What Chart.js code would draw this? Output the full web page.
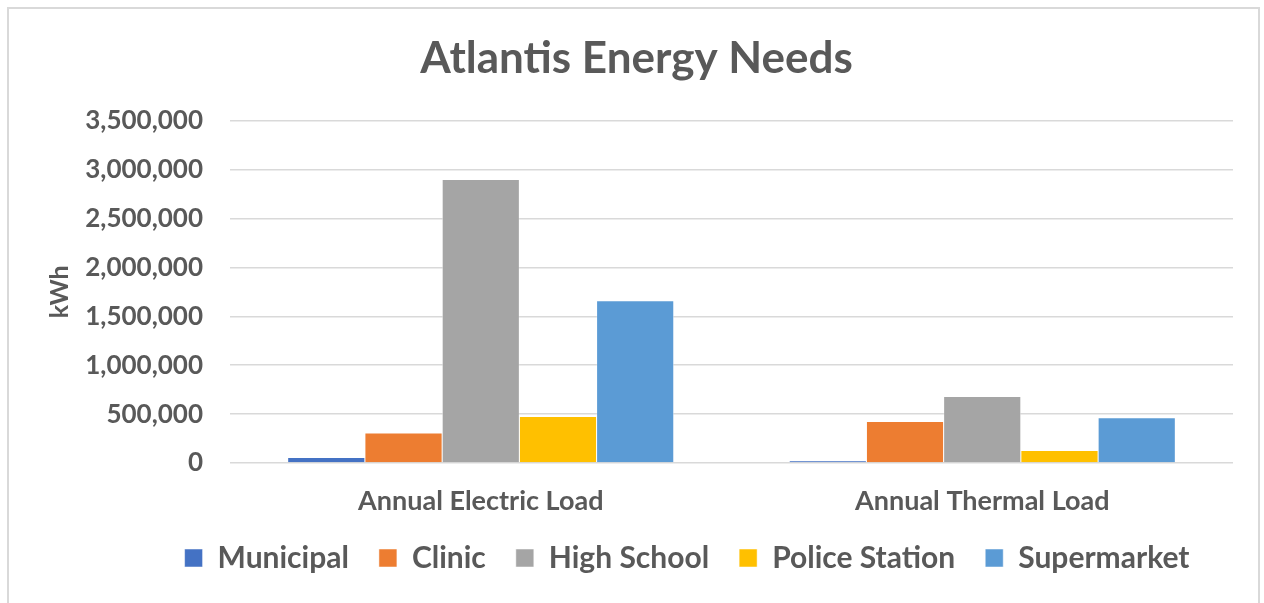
<!DOCTYPE html>
<html>
<head>
<meta charset="utf-8">
<script src="https://cdn.jsdelivr.net/npm/chart.js"></script>
<style>
  body { margin: 0; background: #fff; }
  #frame { position: absolute; left: 7px; top: 7px; width: 1249px; height: 620px; border: 2px solid #d9d9d9; }
  #wrap { position: absolute; left: 0; top: 0; width: 1264px; height: 603px; }
</style>
</head>
<body>
<div id="frame"></div>
<div id="wrap"><canvas id="chart" width="1264" height="603"></canvas></div>
<script>
const categories = ["Annual Electric Load", "Annual Thermal Load"];
const municipal = [57000, 23500];
const clinic = [306000, 424000];
const high_school = [2900000, 680000];
const police_station = [475000, 129000];
const supermarket = [1660000, 462000];
const y_ticks = [0, 500000, 1000000, 1500000, 2000000, 2500000, 3000000, 3500000];

const text_color = "#595959";
const font_name = "Lato, 'Open Sans', sans-serif";

const ctx = document.getElementById("chart").getContext("2d");

function series(label, data, color) {
    return {
        label: label,
        data: data,
        backgroundColor: color,
        borderColor: "#ffffff",
        borderWidth: 0.5,
        categoryPercentage: 0.77,
        barPercentage: 1.0
    };
}

// the legend in the original sits a bit right of centre
const legend_shift = {
    id: "legend_shift",
    afterLayout(chart) {
        chart.legend.left += 101;
        chart.legend.width = chart.legend.right - chart.legend.left;
    }
};

let myChart = new Chart(ctx, {
    type: "bar",
    data: {
        labels: categories,
        datasets: [
            series("Municipal", municipal, "#4472C4"),
            series("Clinic", clinic, "#ED7D31"),
            series("High School", high_school, "#A5A5A5"),
            series("Police Station", police_station, "#FFC000"),
            series("Supermarket", supermarket, "#5B9BD5")
        ]
    },
    options: {
        responsive: false,
        animation: false,
        layout: { padding: { left: 40, right: 31, top: 0, bottom: 20 } },
        plugins: {
            title: {
                display: true,
                text: "Atlantis Energy Needs",
                color: text_color,
                font: { family: font_name, size: 44, weight: "bold" },
                padding: { top: 32, bottom: 36 }
            },
            legend: {
                position: "bottom",
                labels: {
                    color: text_color,
                    font: { family: font_name, size: 30, weight: "bold" },
                    boxWidth: 18,
                    boxHeight: 18,
                    padding: 30
                }
            },
            tooltip: { enabled: false }
        },
        scales: {
            x: {
                afterFit: s => { s.height = 50; },
                grid: { display: false, drawTicks: false },
                border: { display: false },
                ticks: {
                    color: text_color,
                    font: { family: font_name, size: 27, weight: "bold" },
                    padding: 22
                }
            },
            y: {
                min: 0,
                max: 3500000,
                afterFit: s => { s.width = 190; },
                afterBuildTicks: s => { s.ticks = y_ticks.map(v => ({ value: v })); },
                grid: { color: "#d9d9d9", lineWidth: 1.5, drawTicks: false },
                border: { display: false },
                title: {
                    display: true,
                    text: "kWh",
                    color: text_color,
                    font: { family: font_name, size: 25, weight: "bold" },
                    padding: { top: 5, bottom: 0 }
                },
                ticks: {
                    color: text_color,
                    font: { family: font_name, size: 26, weight: "bold" },
                    padding: 27,
                    callback: v => v.toLocaleString("en-US")
                }
            }
        }
    },
    plugins: [legend_shift]
});
</script>
</body>
</html>
